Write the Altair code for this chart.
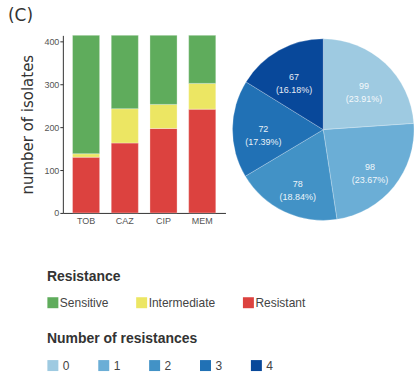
import altair as alt
import pandas as pd

# Antimicrobial susceptibility per drug (number of isolates)
drugs = ["TOB", "CAZ", "CIP", "MEM"]
resistant = [130, 163, 197, 242]
intermediate = [8, 80, 56, 60]
sensitive = [276, 171, 161, 112]

categories = ["Sensitive", "Intermediate", "Resistant"]
category_colors = ["#5fac5c", "#ece663", "#dc423f"]

# Isolates grouped by how many of the drugs they resist
n_resistances = ["0", "1", "2", "3", "4"]
isolates = [99, 98, 78, 72, 67]
blues = ["#9ecae1", "#6baed6", "#4292c6", "#2171b5", "#08489a"]

FONT = "Liberation Sans"

rows = []
for i, drug in enumerate(drugs):
    for cat, vals, pos in [("Resistant", resistant, 0),
                           ("Intermediate", intermediate, 1),
                           ("Sensitive", sensitive, 2)]:
        rows.append({"drug": drug, "category": cat, "count": vals[i], "stack": pos})
bar_df = pd.DataFrame(rows)

total = sum(isolates)
pie_df = pd.DataFrame({
    "n": n_resistances,
    "count": isolates,
    "pos": list(range(len(isolates))),
    "label": [f"{c}\n({c / total * 100:.2f}%)" for c in isolates],
})

bars = alt.Chart(bar_df).mark_bar(stroke="#ffffff", strokeOpacity=0.3, strokeWidth=1).encode(
    x=alt.X("drug:N", sort=drugs, title=None,
            scale=alt.Scale(paddingInner=0.3, paddingOuter=0.25),
            axis=alt.Axis(labelAngle=0, ticks=False, labelFontSize=9, labelFont=FONT,
                          labelColor="#555", labelPadding=4, domainColor="#333")),
    y=alt.Y("count:Q", title="number of isolates",
            scale=alt.Scale(domain=[0, 414], nice=False),
            axis=alt.Axis(values=[0, 100, 200, 300, 400], grid=False, tickSize=3,
                          tickColor="#333", domainColor="#333",
                          labelFontSize=9, labelFont=FONT, labelColor="#555", labelPadding=1,
                          titleFont="DejaVu Sans", titleFontSize=15, titleFontWeight="normal",
                          titleColor="#333", titlePadding=8)),
    color=alt.Color("category:N",
                    scale=alt.Scale(domain=categories, range=category_colors),
                    legend=alt.Legend(title="Resistance", orient="none", legendX=-16, legendY=235,
                                      direction="horizontal", symbolType="square", symbolSize=121,
                                      symbolStrokeWidth=0, symbolOpacity=1, labelOffset=1,
                                      columnPadding=27, titleFont=FONT, titleFontSize=14,
                                      titleFontWeight="bold", titleColor="#333", titlePadding=13,
                                      labelFont=FONT, labelFontSize=12, labelColor="#444")),
    order=alt.Order("stack:Q"),
)

panel_tag = alt.Chart(pd.DataFrame({"t": ["(C)"]})).mark_text(
    align="left", baseline="top", fontSize=17, font="DejaVu Sans", color="#333"
).encode(x=alt.value(-55), y=alt.value(-27), text="t:N")

bar_panel = alt.layer(bars, panel_tag).properties(width=163, height=178)

pie_base = alt.Chart(pie_df).encode(
    theta=alt.Theta("count:Q", stack=True),
    order=alt.Order("pos:Q"),
)
arcs = pie_base.mark_arc(outerRadius=91, stroke="#ffffff", strokeWidth=0.5,
                         strokeOpacity=0.5).encode(
    color=alt.Color("n:N",
                    scale=alt.Scale(domain=n_resistances, range=blues),
                    legend=alt.Legend(title="Number of resistances", orient="none",
                                      legendX=-186, legendY=297, direction="horizontal",
                                      symbolType="square", symbolSize=121, symbolStrokeWidth=0,
                                      symbolOpacity=1, labelOffset=4, columnPadding=28,
                                      titleFont=FONT, titleFontSize=14, titleFontWeight="bold",
                                      titleColor="#333", titlePadding=14,
                                      labelFont=FONT, labelFontSize=12, labelColor="#444")),
)
arc_labels = pie_base.mark_text(
    radius=60, fontSize=9, font=FONT, lineBreak="\n", lineHeight=13,
    color="#ffffff", opacity=0.9
).encode(text="label:N")

pie_panel = alt.layer(arcs, arc_labels).properties(width=182, height=189)

chart = alt.hconcat(bar_panel, pie_panel, spacing=7, bounds="flush").resolve_scale(
    color="independent"
).properties(
    padding={"left": 8, "top": 7, "right": 0, "bottom": 0},
    background="#ffffff",
).configure_view(stroke=None)

chart.save("out.html", embed_options={"renderer": "svg", "actions": False})
